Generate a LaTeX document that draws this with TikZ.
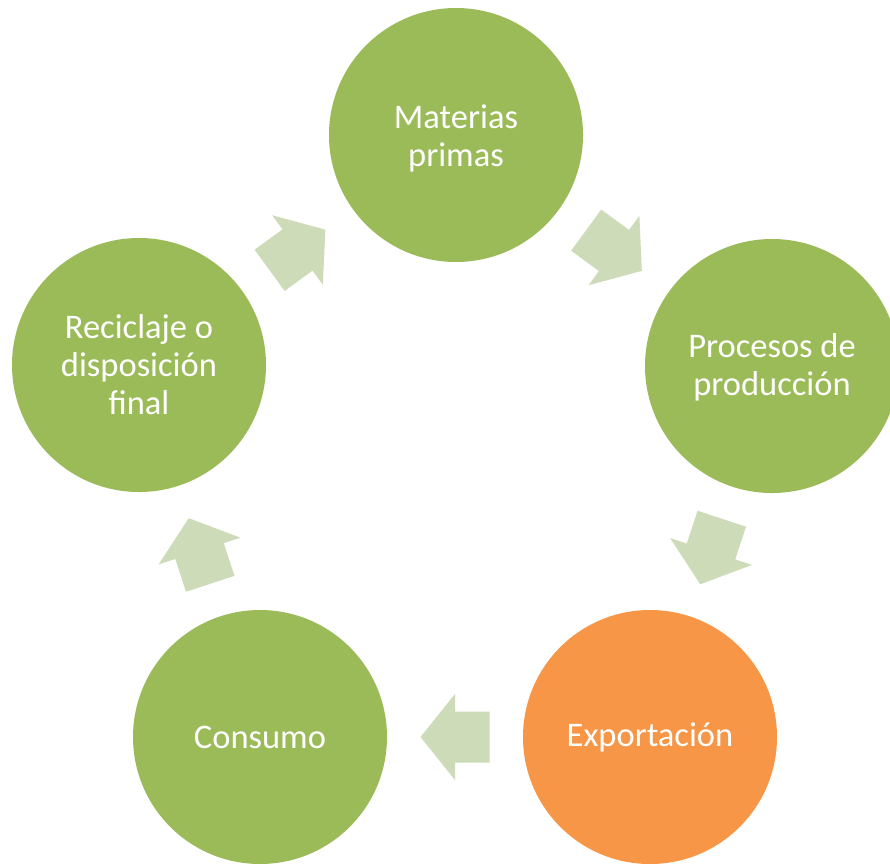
\documentclass[tikz,border=0pt]{standalone}
\usepackage{fontspec}
\setmainfont{Carlito}
\usetikzlibrary{calc}
\definecolor{cgreen}{HTML}{9BBB59}
\definecolor{corange}{HTML}{F79646}
\definecolor{carrow}{HTML}{CDDBB8}
\tikzset{
  stage/.style={circle, minimum size=254pt, inner sep=0pt},
  greenstage/.style={stage, fill=cgreen},
  orangestage/.style={stage, fill=corange},
  stagetext/.style={text=white, align=center, inner sep=0pt,
    font=\fontsize{34.5}{38}\selectfont},
  blockarrow/.style={fill=carrow, draw=none},
}
\newcommand{\cyclearrow}[2]{%
  \fill[blockarrow, shift={(#1)}, rotate=#2]
    (-34.5,-25.5) -- (0,-25.5) -- (0,-43) -- (34.5,0) -- (0,43) -- (0,25.5) -- (-34.5,25.5) -- cycle;}
\begin{document}
\begin{tikzpicture}[x=1pt,y=-1pt]
\clip (0,0) rectangle (890,863);
\fill[white] (0,0) rectangle (890,863);
\node[greenstage] (mat) at (456,135) {};
\node[greenstage] (pro) at (772,366) {};
\node[orangestage] (exp) at (650,737) {};
\node[greenstage] (con) at (260,737) {};
\node[greenstage] (rec) at (139,365) {};
\node[stagetext, yshift=-3pt] (matt) at (mat) {Materias\\primas};
\node[stagetext, yshift=-1pt] (prot) at (pro) {Procesos de\\producción};
\node[stagetext] (expt) at (exp) {Exportación};
\node[stagetext] (cont) at (con) {Consumo};
\node[stagetext] (rect) at (rec) {Reciclaje o\\disposición\\final};
\coordinate (a1) at ($(mat)!0.5!(pro)$);
\coordinate (a2) at ($(pro)!0.5!(exp)$);
\coordinate (a3) at ($(exp)!0.5!(con)$);
\coordinate (a4) at ($(con)!0.5!(rec)$);
\coordinate (a5) at ($(rec)!0.5!(mat)$);
\cyclearrow{a1}{-36.2}
\cyclearrow{a2}{-108.2}
\cyclearrow{a3}{180}
\cyclearrow{a4}{108.1}
\cyclearrow{a5}{36.1}
\end{tikzpicture}
\end{document}
